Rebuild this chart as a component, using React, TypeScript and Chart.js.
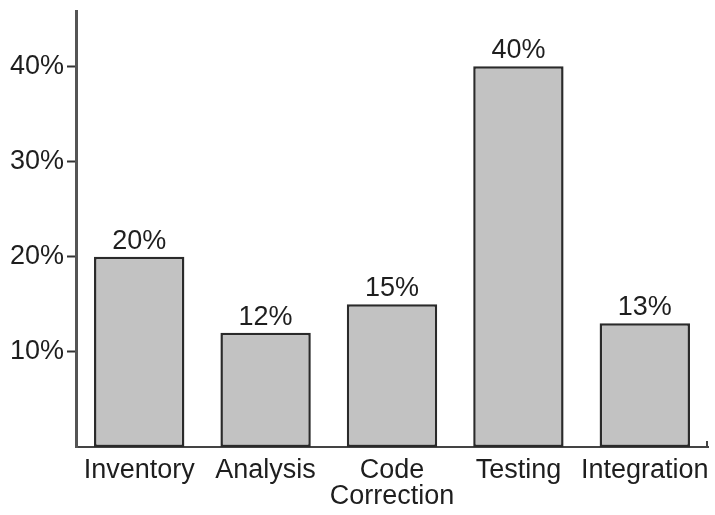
import React, { useEffect, useRef } from "react";
import { Chart, registerables } from "chart.js";

Chart.register(...registerables);

const categories: (string | string[])[] = ["Inventory", "Analysis", ["Code", "Correction"], "Testing", "Integration"];
const values = [20, 12, 15, 40, 13];
const yTicks = [10, 20, 30, 40];

const FONT = "'Liberation Sans', Arial, Helvetica, sans-serif";

const labelPlugin = {
  id: "barLabels",
  afterDatasetsDraw(chart: any) {
    const ctx = chart.ctx;
    const meta = chart.getDatasetMeta(0);
    ctx.save();
    ctx.font = `27px ${FONT}`;
    ctx.fillStyle = "#1e1e1e";
    ctx.textAlign = "center";
    ctx.textBaseline = "alphabetic";
    meta.data.forEach((bar: any, i: number) => {
      ctx.fillText(values[i] + "%", bar.x, bar.y - 8);
    });
    const { right, bottom } = chart.chartArea;
    ctx.strokeStyle = "#444";
    ctx.lineWidth = 2;
    ctx.beginPath();
    ctx.moveTo(right - 1, bottom + 1);
    ctx.lineTo(right - 1, bottom - 6);
    ctx.stroke();
    ctx.restore();
  },
};

export default function App() {
  const ref = useRef<HTMLCanvasElement>(null);
  useEffect(() => {
    document.body.style.margin = "0";
    const chart = new Chart(ref.current!, {
      type: "bar",
      data: {
        labels: categories,
        datasets: [
          {
            data: values,
            backgroundColor: "#c2c2c2",
            borderColor: "#2a2a2a",
            borderWidth: 2.5,
            borderSkipped: false,
            categoryPercentage: 1,
            barPercentage: 0.715,
          },
        ],
      },
      options: {
        animation: false,
        responsive: false,
        devicePixelRatio: 1,
        layout: { padding: { top: 10, right: 7, left: 0, bottom: 0 } },
        plugins: { legend: { display: false }, tooltip: { enabled: false } },
        scales: {
          x: {
            grid: { display: false },
            border: { display: true, color: "#444", width: 2 },
            ticks: {
              color: "#1e1e1e",
              font: { size: 27, family: FONT, lineHeight: 0.96 },
              padding: 3,
              maxRotation: 0,
              autoSkip: false,
            },
            afterFit(scale: any) {
              scale.height = 68;
            },
          },
          y: {
            min: 0,
            max: 45.8,
            afterBuildTicks(scale: any) {
              scale.ticks = yTicks.map((v) => ({ value: v }));
            },
            grid: {
              drawOnChartArea: false,
              drawTicks: true,
              tickLength: 9,
              tickColor: "#333",
              tickWidth: 2,
            },
            border: { display: true, color: "#555", width: 3 },
            ticks: {
              color: "#1e1e1e",
              font: { size: 27, family: FONT, lineHeight: 0.6 },
              padding: 3,
              callback: (v: any) => v + "%",
            },
            afterFit(scale: any) {
              scale.width = 76;
            },
          },
        },
      },
      plugins: [labelPlugin],
    });
    return () => chart.destroy();
  }, []);
  return <canvas ref={ref} width={715} height={515} style={{ display: "block" }} />;
}
